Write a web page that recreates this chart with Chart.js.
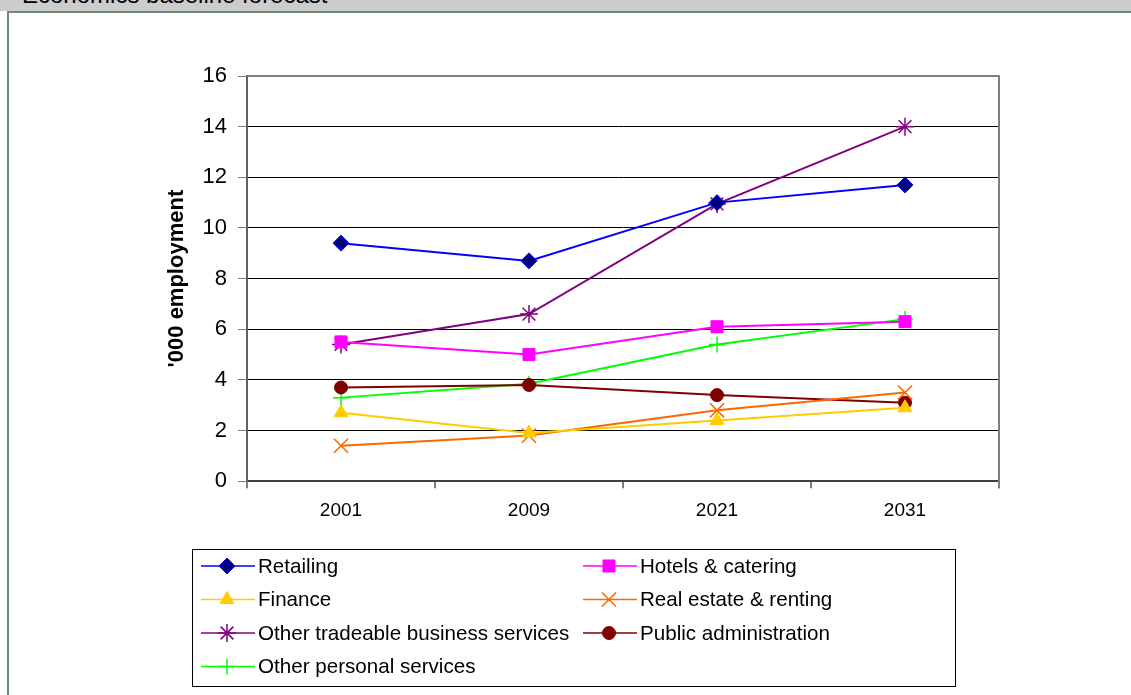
<!DOCTYPE html>
<html>
<head>
<meta charset="utf-8">
<script src="https://cdn.jsdelivr.net/npm/chart.js@4"></script>
<style>
  html, body { margin: 0; padding: 0; background: #fff; overflow: hidden; }
  body { width: 1131px; height: 695px; position: relative; font-family: "Liberation Sans", Arial, sans-serif; }
  #bar { position: absolute; left: 0; top: 0; width: 1131px; height: 11px; background: #cccccc; overflow: hidden; }
  #bar span { position: absolute; left: 22px; top: -19px; font-size: 24px; color: #000; white-space: nowrap; }
  #frame { position: absolute; left: 7px; top: 11px; width: 1140px; height: 700px; border: 2px solid #708a78; }
  #wrap { position: absolute; left: 0; top: 0; width: 1131px; height: 695px; }
</style>
</head>
<body>
<div id="bar"><span>Economics baseline forecast</span></div>
<div id="frame"></div>
<div id="wrap"><canvas id="empChart"></canvas></div>
<script>
// 年次カテゴリと系列データ（'000 employment）
var years = ['2001', '2009', '2021', '2031'];
var yTicks = [0, 2, 4, 6, 8, 10, 12, 14, 16];

var retailing = [9.4, 8.7, 11.0, 11.7];
var hotels = [5.5, 5.0, 6.1, 6.3];
var finance = [2.7, 1.9, 2.4, 2.9];
var realEstate = [1.4, 1.8, 2.8, 3.5];
var otherTradeable = [5.4, 6.6, 10.95, 14.0];
var publicAdmin = [3.7, 3.8, 3.4, 3.1];
var otherPersonal = [3.3, 3.85, 5.4, 6.4];

var seriesNames = ['Retailing', 'Hotels & catering', 'Finance', 'Real estate & renting',
    'Other tradeable business services', 'Public administration', 'Other personal services'];

var FONT = '"Liberation Sans", Arial, sans-serif';

var makeSet = function (label, data, line, fill, style, radius) {
    var thin = (style === 'cross' || style === 'crossRot' || style === 'star');
    return {
        label: label,
        data: data,
        borderColor: line,
        backgroundColor: fill,
        pointBackgroundColor: fill,
        pointBorderColor: (style === 'rectRot') ? line : fill,
        pointStyle: style,
        pointRadius: radius,
        pointHoverRadius: radius,
        pointBorderWidth: thin ? 1.5 : 1,
        borderWidth: 2,
        tension: 0,
        fill: false
    };
};

var datasets = [
    makeSet(seriesNames[0], retailing, '#0000FF', '#000080', 'rectRot', 8),
    makeSet(seriesNames[1], hotels, '#FF00FF', '#FF00FF', 'rect', 8.5),
    makeSet(seriesNames[2], finance, '#FFCC00', '#FFCC00', 'triangle', 8),
    makeSet(seriesNames[3], realEstate, '#FF6600', '#FF6600', 'crossRot', 10),
    makeSet(seriesNames[4], otherTradeable, '#800080', '#800080', 'star', 9),
    makeSet(seriesNames[5], publicAdmin, '#800000', '#800000', 'circle', 6.5),
    makeSet(seriesNames[6], otherPersonal, '#00FF00', '#00FF00', 'cross', 8)
];
// 凡例の位置（2列）
var legendPos = [
    [0, 0], [1, 0],
    [0, 1], [1, 1],
    [0, 2], [1, 2],
    [0, 3]
];

// プロットエリア枠と凡例ボックス
var boxPlugin = {
    id: 'boxPlugin',
    afterDraw: function (chart) {
        var ctx = chart.ctx;
        var a = chart.chartArea;
        ctx.save();
        ctx.strokeStyle = '#808080';
        ctx.lineWidth = 2;
        ctx.beginPath();
        ctx.moveTo(a.left, a.top);
        ctx.lineTo(a.right, a.top);
        ctx.lineTo(a.right, a.bottom + 7);
        ctx.stroke();

        // legend box
        ctx.strokeStyle = '#000';
        ctx.lineWidth = 1;
        ctx.strokeRect(192.5, 549.5, 763, 137);
        ctx.font = '20.6px ' + FONT;
        ctx.textBaseline = 'middle';
        ctx.textAlign = 'left';
        var colX = [201, 583];
        var rowY = [566, 599.5, 633, 666.5];
        datasets.forEach(function (ds, i) {
            var x = colX[legendPos[i][0]];
            var y = rowY[legendPos[i][1]];
            ctx.strokeStyle = ds.borderColor;
            ctx.lineWidth = 1.5;
            ctx.beginPath();
            ctx.moveTo(x, y);
            ctx.lineTo(x + 54, y);
            ctx.stroke();
            ctx.fillStyle = ds.pointBackgroundColor;
            ctx.strokeStyle = ds.pointBorderColor;
            ctx.lineWidth = ds.pointBorderWidth;
            Chart.helpers.drawPoint(ctx, {
                pointStyle: ds.pointStyle,
                radius: ds.pointRadius,
                borderWidth: ds.pointBorderWidth,
                rotation: 0
            }, x + 26, y);
            ctx.fillStyle = '#000';
            ctx.fillText(ds.label, x + 57, y + 1);
        });
        ctx.restore();
    }
};

var ctx = document.getElementById('empChart');
new Chart(ctx, {
    type: 'line',
    data: { labels: years, datasets: datasets },
    plugins: [boxPlugin],
    options: {
        responsive: true,
        maintainAspectRatio: false,
        animation: false,
        layout: { padding: { left: 160, right: 132, top: 76, bottom: 162 } },
        plugins: {
            legend: { display: false },
            tooltip: { enabled: false }
        },
        scales: {
            x: {
                offset: true,
                grid: { drawOnChartArea: false, offset: true, tickLength: 7, tickColor: '#808080', lineWidth: 2 },
                border: { color: '#404040', width: 2 },
                ticks: { color: '#000', padding: 11, font: { family: FONT, size: 19 } }
            },
            y: {
                min: yTicks[0],
                max: yTicks[yTicks.length - 1],
                afterBuildTicks: function (s) {
                    s.ticks = yTicks.map(function (v) { return { value: v }; });
                },
                afterFit: function (s) { s.width = 87; },
                grid: {
                    color: function (c) { return (c.tick && c.tick.value === 16) ? '#808080' : '#000'; },
                    lineWidth: 1,
                    tickLength: 9,
                    tickColor: '#808080'
                },
                border: { color: '#606060', width: 2 },
                ticks: { color: '#000', padding: 11, font: { family: FONT, size: 22 } },
                title: {
                    display: true,
                    text: "'000 employment",
                    color: '#000',
                    font: { family: FONT, size: 22, weight: 'bold' },
                    padding: { top: 4, bottom: 4 }
                }
            }
        }
    }
});
</script>
</body>
</html>
